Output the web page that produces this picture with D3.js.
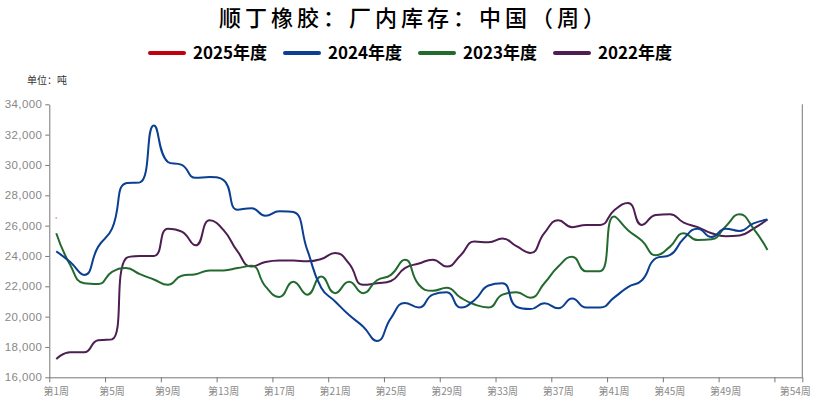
<!DOCTYPE html>
<html><head><meta charset="utf-8">
<script src="https://cdn.jsdelivr.net/npm/d3@7"></script>
<style>body{margin:0;background:#fff;}svg{display:block;}</style>
</head><body>
<svg id="chart" width="829" height="409"></svg>
<script>
const title = "顺丁橡胶：厂内库存：中国（周）";
const unitLabel = "单位：吨";
const categories = d3.range(1, 55).map(i => "第" + i + "周");
const xTickLabels = ["第1周","第5周","第9周","第13周","第17周","第21周","第25周","第29周","第33周","第37周","第41周","第45周","第49周","第54周"];
const yTicks = [16000,18000,20000,22000,24000,26000,28000,30000,32000,34000];
const seriesNames = ["2025年度","2024年度","2023年度","2022年度"];
const seriesColors = ["#c0000c","#0b3f91","#236a2e","#4e1d52"];
const v2025 = [26500];
const v2024 = [24300,23600,22750,24600,25800,28800,28850,32600,30200,30000,29150,29200,29000,27050,27150,26650,26950,26900,24400,21900,21000,20100,19350,18400,19900,20900,20600,21450,21600,20600,21100,22050,22200,20650,20500,20880,20550,21200,20600,20600,21250,21950,22400,23850,24050,25150,25800,25250,25800,25650,26150,26400];
const v2023 = [25500,23400,22200,22150,22950,23200,22800,22450,22100,22700,22800,23050,23050,23200,23350,22000,21300,22300,21450,22650,21550,22300,21550,22400,22750,23750,22100,21700,21900,21250,20800,20600,21450,21600,21250,22200,23300,23950,23000,23000,26600,25700,25000,24050,24600,25500,25050,25100,25950,26750,25800,24400];
const v2022 = [17200,17650,17650,18450,18500,23850,24000,24000,25800,25600,24700,26350,25700,24300,23300,23600,23700,23700,23650,23800,24200,23500,22100,22200,22350,23200,23500,23750,23300,24050,24950,24900,25150,24650,24200,25500,26350,25900,26050,26050,27000,27500,26050,26700,26750,26200,25900,25500,25300,25350,25800,26400];
const seriesValues = [v2025, v2024, v2023, v2022];

const svg = d3.select("#chart");
const L = 49.3, R = 802.3, T = 104.3, B = 377.3;
const x = d3.scaleBand().domain(categories).range([L, R]).padding(0);
const xb = d3.scaleLinear().domain([0, categories.length]).range([L, R]);
const y = d3.scaleLinear().domain([16000, 34000]).range([B, T]);
const axisColor = "#777";
const labelColor = "#888";

// ECharts-like smoothing curve
function curveEC(context) {
  return {
    areaStart(){}, areaEnd(){},
    lineStart(){ this._p = []; },
    point(px, py){ this._p.push([+px, +py]); },
    lineEnd(){
      const p = this._p, n = p.length, s = 0.5;
      if (!n) return;
      context.moveTo(p[0][0], p[0][1]);
      let cp0x = p[0][0], cp0y = p[0][1];
      for (let i = 1; i < n; i++) {
        const [xx, yy] = p[i], [px, py] = p[i-1];
        let cp1x, cp1y, ncx = xx, ncy = yy;
        if (i === n - 1) { cp1x = xx; cp1y = yy; }
        else {
          const [nx, ny] = p[i+1];
          let vx = nx - px, vy = ny - py;
          const lp = Math.hypot(xx - px, yy - py), ln = Math.hypot(nx - xx, ny - yy);
          const r = ln / (ln + lp);
          ncx = xx + vx * s * r; ncy = yy + vy * s * r;
          ncx = Math.min(ncx, Math.max(nx, xx)); ncy = Math.min(ncy, Math.max(ny, yy));
          ncx = Math.max(ncx, Math.min(nx, xx)); ncy = Math.max(ncy, Math.min(ny, yy));
          vx = ncx - xx; vy = ncy - yy;
          cp1x = xx - vx * lp / ln; cp1y = yy - vy * lp / ln;
          cp1x = Math.min(cp1x, Math.max(px, xx)); cp1y = Math.min(cp1y, Math.max(py, yy));
          cp1x = Math.max(cp1x, Math.min(px, xx)); cp1y = Math.max(cp1y, Math.min(py, yy));
          vx = xx - cp1x; vy = yy - cp1y;
          ncx = xx + vx * ln / lp; ncy = yy + vy * ln / lp;
        }
        context.bezierCurveTo(cp0x, cp0y, cp1x, cp1y, xx, yy);
        cp0x = ncx; cp0y = ncy;
      }
    }
  };
}

// Title
svg.append("text").attr("x", 414).attr("y", 26).attr("text-anchor", "middle")
  .attr("font-family", "'Noto Sans CJK SC', sans-serif").attr("font-size", 22).attr("font-weight", 500)
  .attr("letter-spacing", 4).attr("fill", "#000").text(title);

// Legend
seriesNames.forEach((name, i) => {
  const x0 = 148 + i * 135;
  svg.append("line").attr("x1", x0 + 2).attr("x2", x0 + 36).attr("y1", 53).attr("y2", 53)
    .attr("stroke", seriesColors[i]).attr("stroke-width", 4).attr("stroke-linecap", "round");
  svg.append("text").attr("x", x0 + 45).attr("y", 59)
    .attr("font-family", "'Liberation Sans Narrow', 'Noto Sans CJK SC', sans-serif")
    .attr("font-weight", "bold").attr("font-size", 17).attr("fill", "#000").text(name);
});

// Unit
svg.append("text").attr("x", 27).attr("y", 84).attr("font-family", "'Noto Sans CJK SC', sans-serif")
  .attr("font-size", 10).attr("fill", "#333").text(unitLabel);

// Y axis
const yAxis = svg.append("g").attr("transform", `translate(${L},0)`)
  .call(d3.axisLeft(y).tickValues(yTicks).tickFormat(d3.format(",")).tickSize(4).tickSizeOuter(0).tickPadding(3));
yAxis.select(".domain").attr("stroke", axisColor);
yAxis.selectAll(".tick line").attr("stroke", axisColor);
yAxis.selectAll("text").attr("fill", labelColor).attr("font-size", 11.5).attr("letter-spacing", 0.4)
  .attr("font-family", "'Liberation Sans', sans-serif");

// Right line
svg.append("line").attr("x1", R).attr("x2", R).attr("y1", T).attr("y2", B).attr("stroke", axisColor);

// X axis
const xAxis = svg.append("g").attr("transform", `translate(0,${B})`)
  .call(d3.axisBottom(xb).tickValues([0,4,8,12,16,20,24,28,32,36,40,44,48,52,54]).tickFormat("").tickSize(5).tickSizeOuter(0));
xAxis.select(".domain").attr("stroke", axisColor);
xAxis.selectAll(".tick line").attr("stroke", axisColor);
svg.append("g").selectAll("text").data(xTickLabels).join("text")
  .attr("x", d => x(d) + x.bandwidth() / 2).attr("y", 395).attr("text-anchor", "middle")
  .attr("font-family", "'Noto Sans CJK SC', sans-serif").attr("font-size", 10).attr("fill", labelColor).text(d => d);

// Lines
const line = d3.line().x((d, i) => x(categories[i]) + x.bandwidth() / 2).y(d => y(d)).curve(curveEC);
[3, 2, 1].forEach(k => {
  svg.append("path").datum(seriesValues[k]).attr("d", line).attr("fill", "none")
    .attr("stroke", seriesColors[k]).attr("stroke-width", 2).attr("stroke-linejoin", "round");
});
// 2025 single point
svg.append("g").selectAll("circle").data(v2025).join("circle")
  .attr("cx", (d, i) => x(categories[i]) + x.bandwidth() / 2).attr("cy", d => y(d)).attr("r", 1)
  .attr("fill", seriesColors[0]).attr("opacity", 0.35);
</script>
</body></html>
